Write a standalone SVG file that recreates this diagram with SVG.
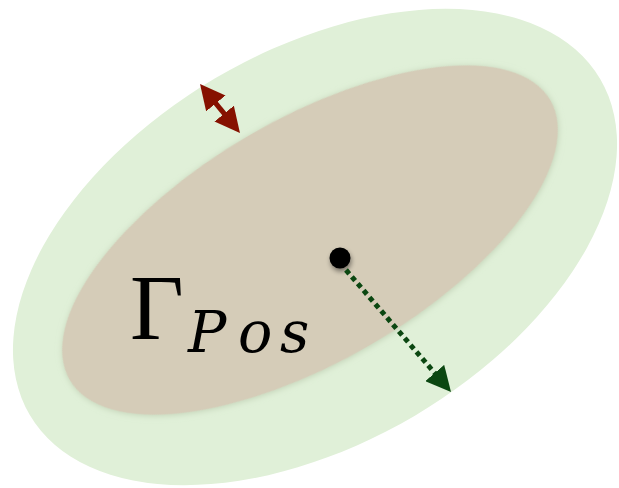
<svg xmlns="http://www.w3.org/2000/svg" width="619" height="488" viewBox="0 0 619 488">
  <style>
    .lbl { fill: #000; }
    .gamma { font-family: "Liberation Serif", "DejaVu Serif", serif; font-size: 93px; }
    .sub { font-family: "DejaVu Serif", "Liberation Serif", serif; font-size: 57px; font-style: italic; }
  </style>
  <defs>
    <filter id="halo" x="-10%" y="-15%" width="120%" height="130%">
      <feGaussianBlur in="SourceAlpha" stdDeviation="3"/>
      <feOffset dx="0" dy="1" result="b"/>
      <feFlood flood-color="#a9b89a" flood-opacity="0.55"/>
      <feComposite in2="b" operator="in"/>
      <feMerge><feMergeNode/><feMergeNode in="SourceGraphic"/></feMerge>
    </filter>
    <filter id="dotshadow" x="-100%" y="-100%" width="300%" height="300%">
      <feGaussianBlur in="SourceAlpha" stdDeviation="2.5"/>
      <feOffset dx="1" dy="3" result="b"/>
      <feComponentTransfer><feFuncA type="linear" slope="0.45"/></feComponentTransfer>
      <feMerge><feMergeNode/><feMergeNode in="SourceGraphic"/></feMerge>
    </filter>
    <marker id="redHead" viewBox="0 0 10 10" refX="3" refY="5" markerWidth="5" markerHeight="5" orient="auto-start-reverse" markerUnits="strokeWidth">
      <path d="M0,0 L10,5 L0,10 z" fill="#861100"/>
    </marker>
    <marker id="greenHead" viewBox="0 0 10 10" refX="3" refY="5" markerWidth="5" markerHeight="5" orient="auto" markerUnits="strokeWidth">
      <path d="M0,0 L10,5 L0,10 z" fill="#0b4711"/>
    </marker>
  </defs>

  <g id="outer-region">
    <ellipse cx="315" cy="247" rx="331" ry="196" transform="rotate(-30.5 315 247)" fill="#e0f0d8"/>
  </g>

  <g id="inner-region">
    <ellipse cx="310" cy="240" rx="278" ry="121" transform="rotate(-30.2 310 240)" fill="#d5ccb8" filter="url(#halo)"/>
  </g>

  <g id="label">
    <text class="lbl gamma" x="130" y="339">Γ</text>
    <text class="lbl sub" y="352"><tspan x="188">P</tspan><tspan x="238">o</tspan><tspan x="280">s</tspan></text>
  </g>

  <g id="center-point">
    <circle cx="340" cy="258" r="10.5" fill="#000" filter="url(#dotshadow)"/>
  </g>

  <g id="connectors">
    <line x1="211.1" y1="97.6" x2="228.9" y2="119.4" stroke="#861100" stroke-width="5" marker-start="url(#redHead)" marker-end="url(#redHead)"/>
    <line x1="346" y1="270" x2="439.6" y2="378.7" stroke="#0b4711" stroke-width="5" stroke-dasharray="5 4" marker-end="url(#greenHead)"/>
  </g>
</svg>
